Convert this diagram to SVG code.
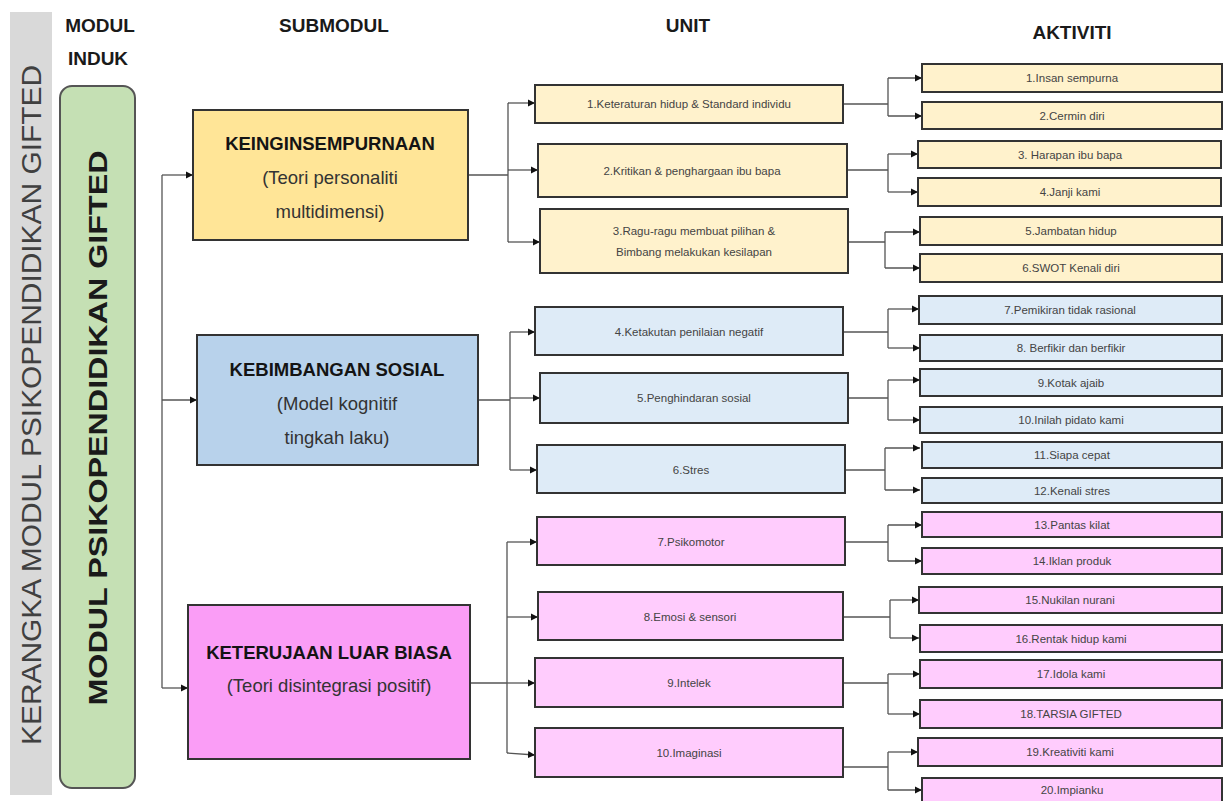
<svg xmlns="http://www.w3.org/2000/svg" width="1224" height="801" viewBox="0 0 1224 801">
<style>
text{font-family:"Liberation Sans",Arial,sans-serif;}
.hdr{font-size:19px;font-weight:bold;fill:#1a1a1a;}
.box{stroke:#333;stroke-width:2;}
.sb{font-size:18.5px;font-weight:bold;fill:#141414;text-anchor:middle;}
.sr{font-size:18.5px;fill:#333;text-anchor:middle;}
.t{font-size:11.5px;fill:#444;text-anchor:middle;dominant-baseline:central;}
.y1{fill:#ffe597;} .b1{fill:#b8d2eb;} .p1{fill:#fa9df6;}
.y2{fill:#fff2cc;} .b2{fill:#deebf7;} .p2{fill:#ffccfd;}
.c{fill:none;stroke:#555;stroke-width:1.3;}
.a{fill:none;stroke:#555;stroke-width:1.3;marker-end:url(#ah);}
</style>
<defs>
<marker id="ah" markerWidth="8" markerHeight="8" refX="7" refY="4" orient="auto" markerUnits="userSpaceOnUse">
<path d="M0,0.5 L7,4 L0,7.5 Z" fill="#111"/>
</marker>
</defs>
<rect width="1224" height="801" fill="#ffffff"/>

<g id="band">
<rect x="10" y="12" width="42" height="783" fill="#d9d9d9"/>
<text x="0" y="0" transform="translate(41,405) rotate(-90)" text-anchor="middle" font-size="27" fill="#404040" textLength="680" lengthAdjust="spacingAndGlyphs">KERANGKA MODUL PSIKOPENDIDIKAN GIFTED</text>
</g>

<g id="headers">
<text class="hdr" x="100" y="32" text-anchor="middle">MODUL</text>
<text class="hdr" x="98" y="65" text-anchor="middle">INDUK</text>
<text class="hdr" x="334" y="32" text-anchor="middle">SUBMODUL</text>
<text class="hdr" x="688" y="32" text-anchor="middle">UNIT</text>
<text class="hdr" x="1072" y="39" text-anchor="middle">AKTIVITI</text>
</g>

<g id="modul-induk">
<rect x="60" y="86" width="75" height="702" rx="12" fill="#c5e0b4" stroke="#555" stroke-width="2"/>
<text x="0" y="0" transform="translate(107,428) rotate(-90)" text-anchor="middle" font-size="25" font-weight="bold" fill="#1a1a1a" textLength="555" lengthAdjust="spacingAndGlyphs">MODUL PSIKOPENDIDIKAN  GIFTED</text>
</g>

<g id="connectors">
<path class="c" d="M162,175 V688"/>
<path class="a" d="M162,175 H193"/>
<path class="a" d="M162,400 H197"/>
<path class="a" d="M162,688 H188"/>

<path class="c" d="M468,175 H508 M508,103 V242"/>
<path class="a" d="M508,103 H535"/>
<path class="a" d="M508,170 H538"/>
<path class="a" d="M508,242 H540"/>

<path class="c" d="M478,400 H510 M510,332 V470"/>
<path class="a" d="M510,332 H535"/>
<path class="a" d="M510,398 H540"/>
<path class="a" d="M510,470 H537"/>

<path class="c" d="M470,683 H507 M507,542 V753"/>
<path class="a" d="M507,542 H537"/>
<path class="a" d="M507,617 H538"/>
<path class="a" d="M507,683 H535"/>
<path class="a" d="M507,753 L535,755"/>

<path class="c" d="M843,104 H888 M888,78 V116"/>
<path class="a" d="M888,78 H922"/>
<path class="a" d="M888,116 H922"/>
<path class="c" d="M847,170 H888 M888,154 V192"/>
<path class="a" d="M888,154 H918"/>
<path class="a" d="M888,192 H918"/>
<path class="c" d="M848,242 H885 M885,232 V268"/>
<path class="a" d="M885,232 H920"/>
<path class="a" d="M885,268 H920"/>

<path class="c" d="M843,332 H888 M888,309 V348"/>
<path class="a" d="M888,309 H919"/>
<path class="a" d="M888,348 H920"/>
<path class="c" d="M848,398 H888 M888,380 V420"/>
<path class="a" d="M888,380 H920"/>
<path class="a" d="M888,420 H920"/>
<path class="c" d="M845,470 H885 M885,448 V490"/>
<path class="a" d="M885,448 H920"/>
<path class="a" d="M885,490 H920"/>

<path class="c" d="M845,542 H888 M888,525 V561"/>
<path class="a" d="M888,525 H922"/>
<path class="a" d="M888,561 H922"/>
<path class="c" d="M843,617 H890 M890,600 V638"/>
<path class="a" d="M890,600 H919"/>
<path class="a" d="M890,638 H919"/>
<path class="c" d="M843,683 H888 M888,674 V714"/>
<path class="a" d="M888,674 H920"/>
<path class="a" d="M888,714 H920"/>
<path class="c" d="M843,767 H888 M888,752 V790"/>
<path class="a" d="M888,752 H918"/>
<path class="a" d="M888,790 H922"/>
</g>

<g id="sub-keinginsempurnaan">
<rect class="box y1" x="193" y="110" width="275" height="130"/>
<text class="sb" x="330" y="150">KEINGINSEMPURNAAN</text>
<text class="sr" x="330" y="184">(Teori personaliti</text>
<text class="sr" x="330" y="218">multidimensi)</text>
</g>
<g id="sub-kebimbangan">
<rect class="box b1" x="197" y="335" width="281" height="130"/>
<text class="sb" x="337" y="376">KEBIMBANGAN SOSIAL</text>
<text class="sr" x="337" y="410">(Model kognitif</text>
<text class="sr" x="337" y="444">tingkah laku)</text>
</g>
<g id="sub-keterujaan">
<rect class="box p1" x="188" y="605" width="282" height="154"/>
<text class="sb" x="329" y="659">KETERUJAAN LUAR BIASA</text>
<text class="sr" x="329" y="692">(Teori disintegrasi positif)</text>
</g>

<g id="unit-1"><rect class="box y2" x="535" y="85" width="308" height="38"/><text class="t" x="689" y="104">1.Keteraturan hidup &amp; Standard individu</text></g>
<g id="unit-2"><rect class="box y2" x="538" y="144" width="309" height="53"/><text class="t" x="692" y="171">2.Kritikan &amp; penghargaan ibu bapa</text></g>
<g id="unit-3"><rect class="box y2" x="540" y="209" width="308" height="64"/><text class="t" x="694" y="231">3.Ragu-ragu membuat pilihan &amp;</text><text class="t" x="694" y="252">Bimbang melakukan kesilapan</text></g>
<g id="unit-4"><rect class="box b2" x="535" y="307" width="308" height="48"/><text class="t" x="689" y="332">4.Ketakutan penilaian negatif</text></g>
<g id="unit-5"><rect class="box b2" x="540" y="373" width="308" height="50"/><text class="t" x="694" y="398">5.Penghindaran sosial</text></g>
<g id="unit-6"><rect class="box b2" x="537" y="445" width="308" height="48"/><text class="t" x="691" y="470">6.Stres</text></g>
<g id="unit-7"><rect class="box p2" x="537" y="517" width="308" height="48"/><text class="t" x="691" y="542">7.Psikomotor</text></g>
<g id="unit-8"><rect class="box p2" x="538" y="592" width="305" height="48"/><text class="t" x="690" y="617">8.Emosi &amp; sensori</text></g>
<g id="unit-9"><rect class="box p2" x="535" y="658" width="308" height="49"/><text class="t" x="689" y="683">9.Intelek</text></g>
<g id="unit-10"><rect class="box p2" x="535" y="728" width="308" height="49"/><text class="t" x="689" y="753">10.Imaginasi</text></g>

<g id="akt-1"><rect class="box y2" x="922" y="64" width="300" height="28"/><text class="t" x="1072" y="78">1.Insan sempurna</text></g>
<g id="akt-2"><rect class="box y2" x="922" y="102" width="300" height="27"/><text class="t" x="1072" y="115.5">2.Cermin diri</text></g>
<g id="akt-3"><rect class="box y2" x="918" y="141" width="303" height="27"/><text class="t" x="1070" y="154.5">3. Harapan ibu bapa</text></g>
<g id="akt-4"><rect class="box y2" x="918" y="178" width="303" height="28"/><text class="t" x="1070" y="192">4.Janji kami</text></g>
<g id="akt-5"><rect class="box y2" x="920" y="217" width="302" height="28"/><text class="t" x="1071" y="231">5.Jambatan hidup</text></g>
<g id="akt-6"><rect class="box y2" x="920" y="254" width="302" height="28"/><text class="t" x="1071" y="268">6.SWOT Kenali diri</text></g>
<g id="akt-7"><rect class="box b2" x="919" y="296" width="303" height="28"/><text class="t" x="1070" y="310">7.Pemikiran tidak rasional</text></g>
<g id="akt-8"><rect class="box b2" x="920" y="335" width="302" height="26"/><text class="t" x="1071" y="348">8. Berfikir dan berfikir</text></g>
<g id="akt-9"><rect class="box b2" x="920" y="369" width="302" height="27"/><text class="t" x="1071" y="382.5">9.Kotak ajaib</text></g>
<g id="akt-10"><rect class="box b2" x="920" y="407" width="302" height="26"/><text class="t" x="1071" y="420">10.Inilah pidato kami</text></g>
<g id="akt-11"><rect class="box b2" x="922" y="442" width="300" height="26"/><text class="t" x="1072" y="455">11.Siapa cepat</text></g>
<g id="akt-12"><rect class="box b2" x="922" y="478" width="300" height="25"/><text class="t" x="1072" y="490.5">12.Kenali stres</text></g>
<g id="akt-13"><rect class="box p2" x="922" y="512" width="300" height="25"/><text class="t" x="1072" y="524.5">13.Pantas kilat</text></g>
<g id="akt-14"><rect class="box p2" x="922" y="548" width="300" height="26"/><text class="t" x="1072" y="561">14.Iklan produk</text></g>
<g id="akt-15"><rect class="box p2" x="919" y="587" width="303" height="26"/><text class="t" x="1070" y="600">15.Nukilan nurani</text></g>
<g id="akt-16"><rect class="box p2" x="920" y="625" width="302" height="27"/><text class="t" x="1071" y="638.5">16.Rentak hidup kami</text></g>
<g id="akt-17"><rect class="box p2" x="920" y="660" width="302" height="28"/><text class="t" x="1071" y="674">17.Idola kami</text></g>
<g id="akt-18"><rect class="box p2" x="920" y="700" width="302" height="28"/><text class="t" x="1071" y="714">18.TARSIA GIFTED</text></g>
<g id="akt-19"><rect class="box p2" x="918" y="738" width="304" height="28"/><text class="t" x="1070" y="752">19.Kreativiti kami</text></g>
<g id="akt-20"><rect class="box p2" x="922" y="778" width="300" height="26"/><text class="t" x="1072" y="790">20.Impianku</text></g>
</svg>
